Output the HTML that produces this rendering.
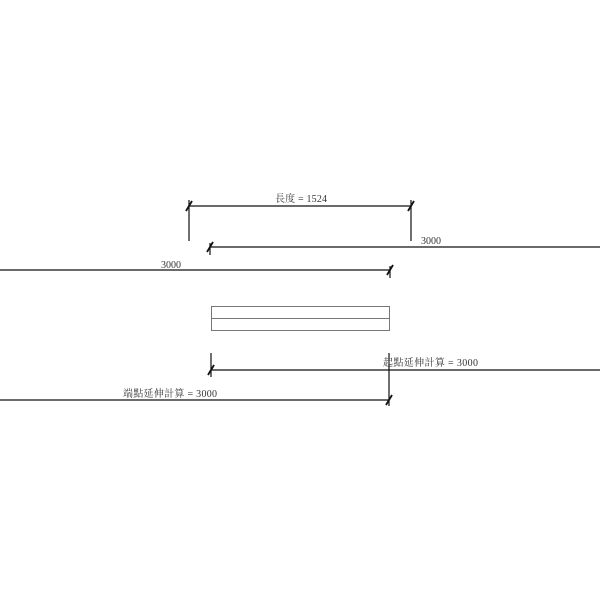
<!DOCTYPE html>
<html><head><meta charset="utf-8"><style>html,body{margin:0;padding:0;background:#fff}svg{display:block}</style></head>
<body>
<svg width="600" height="600" viewBox="0 0 600 600" xmlns="http://www.w3.org/2000/svg" font-family="'Liberation Serif','Noto Serif CJK SC',serif" font-size="10" fill="#333">
<g stroke="#111" stroke-width="1.2" fill="none">
<!-- top dimension -->
<line x1="189" y1="206" x2="411" y2="206"/>
<line x1="189" y1="200" x2="189" y2="241"/>
<line x1="411" y1="200" x2="411" y2="241"/>
<line x1="186" y1="211" x2="192" y2="201" stroke-width="1.8"/>
<line x1="408" y1="211" x2="414" y2="201" stroke-width="1.8"/>
<!-- line 2 -->
<line x1="210" y1="247" x2="600" y2="247"/>
<line x1="207" y1="252" x2="213" y2="242" stroke-width="1.8"/>
<line x1="210" y1="243" x2="210" y2="255"/>
<!-- line 3 -->
<line x1="0" y1="270" x2="390" y2="270"/>
<line x1="387" y1="275" x2="393" y2="265" stroke-width="1.8"/>
<line x1="390" y1="266" x2="390" y2="278"/>
<!-- line 4 -->
<line x1="211" y1="370" x2="600" y2="370"/>
<line x1="211" y1="353" x2="211" y2="377"/>
<line x1="208" y1="375" x2="214" y2="365" stroke-width="1.8"/>
<line x1="389" y1="353" x2="389" y2="406"/>
<!-- line 5 -->
<line x1="0" y1="400" x2="389" y2="400"/>
<line x1="386" y1="405" x2="392" y2="395" stroke-width="1.8"/>
</g>
<g stroke="#777" stroke-width="1" fill="none">
<rect x="211.5" y="306.5" width="178" height="24"/>
<line x1="211.5" y1="318.5" x2="389.5" y2="318.5"/>
</g>
<text x="275" y="202" textLength="52">長度 = 1524</text>
<text x="421" y="244" textLength="20">3000</text>
<text x="161" y="268" textLength="20">3000</text>
<text x="383" y="366" textLength="95">起點延伸計算 = 3000</text>
<text x="123" y="397" textLength="94">端點延伸計算 = 3000</text>
</svg>
</body></html>
